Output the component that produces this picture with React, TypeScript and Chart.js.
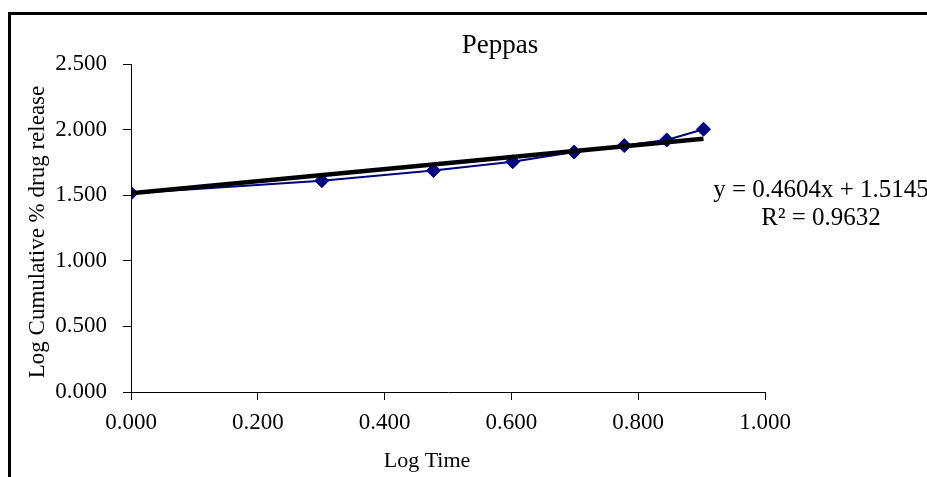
import React, { useEffect, useRef } from "react";
import { Chart, registerables } from "chart.js";

Chart.register(...registerables);

// ---- Data ----
const logTime = [0.0, 0.301, 0.477, 0.602, 0.699, 0.778, 0.845, 0.903];
const logRelease = [1.515, 1.611, 1.688, 1.755, 1.829, 1.878, 1.921, 2.003];
const trendSlope = 0.4604;
const trendIntercept = 1.5145;
const trendRSquared = 0.9632;
const xTickValues = [0.0, 0.2, 0.4, 0.6, 0.8, 1.0];
const yTickValues = [0.0, 0.5, 1.0, 1.5, 2.0, 2.5];
const chartTitle = "Peppas";
const xAxisTitle = "Log Time";
const yAxisTitle = "Log Cumulative % drug release";

const FONT = "'Times New Roman', 'Liberation Serif', serif";

const decorPlugin = {
  id: "decor",
  beforeDraw(chart: any) {
    const { ctx, width, height } = chart;
    ctx.save();
    ctx.fillStyle = "#ffffff";
    ctx.fillRect(0, 0, width, height);
    ctx.restore();
  },
  afterDraw(chart: any) {
    const { ctx, width, height } = chart;
    ctx.save();
    // outer chart frame (cropped at right and bottom)
    ctx.strokeStyle = "#000000";
    ctx.lineWidth = 3;
    ctx.beginPath();
    ctx.moveTo(9.5, height + 10);
    ctx.lineTo(9.5, 13.5);
    ctx.lineTo(width + 10, 13.5);
    ctx.stroke();

    ctx.fillStyle = "#000000";
    // title
    ctx.font = `27px ${FONT}`;
    ctx.textAlign = "center";
    ctx.textBaseline = "alphabetic";
    ctx.fillText(chartTitle, 500, 53);

    // x axis title
    ctx.font = `22px ${FONT}`;
    ctx.fillText(xAxisTitle, 427, 467);

    // y axis title
    ctx.save();
    ctx.font = `23px ${FONT}`;
    ctx.translate(38, 232);
    ctx.rotate(-Math.PI / 2);
    ctx.textBaseline = "middle";
    ctx.fillText(yAxisTitle, 0, 0);
    ctx.restore();

    // trendline equation
    ctx.font = `25px ${FONT}`;
    ctx.textAlign = "center";
    ctx.fillText(
      `y = ${trendSlope.toFixed(4)}x + ${trendIntercept.toFixed(4)}`,
      821,
      197
    );
    ctx.fillText(`R\u00B2 = ${trendRSquared.toFixed(4)}`, 821, 225);
    ctx.restore();
  },
};

export default function App() {
  const canvasRef = useRef<HTMLCanvasElement | null>(null);

  useEffect(() => {
    if (!canvasRef.current) return;
    const points = logTime.map((x, i) => ({ x, y: logRelease[i] }));
    const xEnd = logTime[logTime.length - 1];
    const trend = [
      { x: logTime[0], y: trendIntercept + trendSlope * logTime[0] },
      { x: xEnd, y: trendIntercept + trendSlope * xEnd },
    ];

    const chart = new Chart(canvasRef.current, {
      type: "scatter",
      data: {
        datasets: [
          {
            label: "Linear (Peppas)",
            data: trend,
            showLine: true,
            borderColor: "#000000",
            borderWidth: 4.5,
            pointRadius: 0,
            pointHoverRadius: 0,
            order: 0,
          },
          {
            label: "Peppas",
            data: points,
            showLine: true,
            borderColor: "#000080",
            backgroundColor: "#000080",
            borderWidth: 2,
            pointStyle: "rectRot",
            pointRadius: 7,
            pointBorderWidth: 1,
            pointBorderColor: "#000080",
            pointBackgroundColor: "#000080",
            order: 1,
          },
        ],
      },
      options: {
        animation: false,
        responsive: true,
        maintainAspectRatio: false,
        layout: { padding: { top: 64, right: 162, bottom: 0, left: 0 } },
        plugins: {
          legend: { display: false },
          title: { display: false },
          tooltip: { enabled: false },
        },
        scales: {
          x: {
            type: "linear",
            min: xTickValues[0],
            max: xTickValues[xTickValues.length - 1],
            afterBuildTicks: (scale: any) => {
              scale.ticks = xTickValues.map((v) => ({ value: v }));
            },
            afterFit: (scale: any) => {
              scale.height = 85;
            },
            grid: {
              drawOnChartArea: false,
              drawTicks: true,
              tickLength: 8,
              color: "#000000",
              lineWidth: 1,
            },
            border: { display: true, color: "#000000", width: 1 },
            ticks: {
              color: "#000000",
              font: { family: FONT, size: 23 },
              padding: 9,
              maxRotation: 0,
              callback: (v: any) => Number(v).toFixed(3),
            },
          },
          y: {
            type: "linear",
            min: yTickValues[0],
            max: yTickValues[yTickValues.length - 1],
            afterBuildTicks: (scale: any) => {
              scale.ticks = yTickValues.map((v) => ({ value: v }));
            },
            afterFit: (scale: any) => {
              scale.width = 131;
            },
            grid: {
              drawOnChartArea: false,
              drawTicks: true,
              tickLength: 8,
              color: "#000000",
              lineWidth: 1,
            },
            border: { display: true, color: "#000000", width: 1 },
            ticks: {
              color: "#000000",
              font: { family: FONT, size: 23 },
              padding: 16,
              callback: (v: any) => Number(v).toFixed(3),
            },
          },
        },
      },
      plugins: [decorPlugin],
    });
    return () => chart.destroy();
  }, []);

  return (
    <div
      style={{
        position: "fixed",
        left: 0,
        top: 0,
        width: 927,
        height: 477,
        background: "#fff",
      }}
    >
      <canvas ref={canvasRef} />
    </div>
  );
}
